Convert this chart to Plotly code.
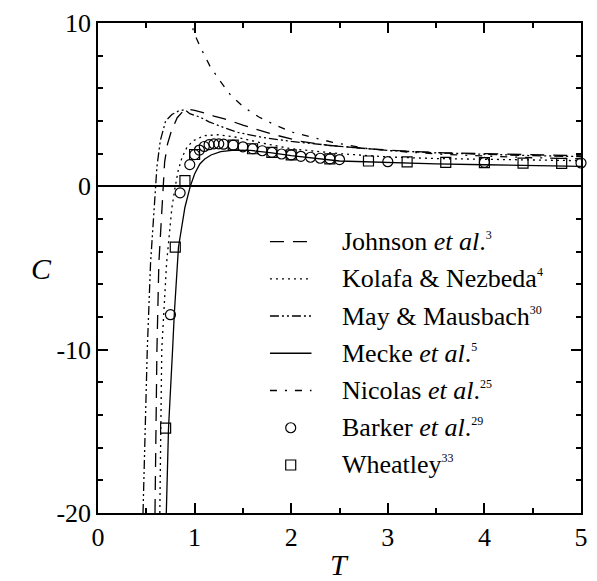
import plotly.graph_objects as go

# Third virial coefficient C(T) of the Lennard-Jones fluid
FONT = "'Liberation Serif', 'Times New Roman', Times, serif"

# --- equations of state (curves) ---
johnson_T = [0.59, 0.61, 0.63, 0.66, 0.675, 0.69, 0.72, 0.76, 0.82, 0.88, 0.93, 1.0, 1.1, 1.2,
             1.3, 1.5, 1.8, 2.1, 2.4, 2.8, 3.2, 3.6, 4.0, 4.5, 5.0]
johnson_C = [-20.0, -10.0, -4.7, -1.3, 0.0, 1.5, 2.6, 3.4, 4.2, 4.6, 4.72, 4.65, 4.5, 4.3,
             4.15, 3.75, 3.2, 2.75, 2.5, 2.3, 2.15, 2.05, 2.0, 1.93, 1.87]

kolafa_T = [0.64, 0.66, 0.71, 0.765, 0.80, 0.83, 0.87, 0.92, 0.985, 1.1, 1.24, 1.44, 1.7, 2.0,
            2.5, 3.0, 3.5, 4.0, 4.5, 5.0]
kolafa_C = [-20.0, -10.0, -4.7, -1.3, 0.0, 0.96, 1.77, 2.38, 2.79, 3.1, 3.16, 3.0, 2.65, 2.3,
            2.0, 1.8, 1.7, 1.65, 1.6, 1.57]

may_T = [0.466, 0.51, 0.544, 0.578, 0.595, 0.61, 0.645, 0.70, 0.765, 0.83, 0.90, 0.95, 1.05,
         1.15, 1.3, 1.45, 1.7, 2.0, 2.5, 3.0, 3.5, 4.0, 4.5, 5.0]
may_C = [-20.0, -10.0, -4.7, -1.3, 0.0, 1.2, 2.8, 4.0, 4.4, 4.6, 4.7, 4.45, 4.25,
         3.95, 3.6, 3.3, 3.0, 2.75, 2.45, 2.2, 2.05, 1.95, 1.88, 1.82]

mecke_T = [0.707, 0.73, 0.772, 0.79, 0.833, 0.90, 0.955, 1.0, 1.054, 1.105, 1.17, 1.27, 1.41,
           1.58, 1.8, 2.0, 2.5, 3.0, 3.5, 4.0, 4.5, 5.0]
mecke_C = [-20.0, -14.8, -10.0, -7.8, -3.73, -1.28, 0.0, 0.76, 1.37, 1.67, 1.92, 2.12, 2.22,
           2.2, 2.05, 1.88, 1.55, 1.45, 1.37, 1.32, 1.27, 1.22]

nicolas_T = [0.975, 0.985, 1.07, 1.156, 1.26, 1.376, 1.51, 1.67, 1.85, 2.02, 2.23, 2.43, 2.8,
             3.2, 3.6, 4.0, 4.5, 5.0]
nicolas_C = [10.6, 9.5, 8.4, 7.39, 6.48, 5.56, 4.84, 4.23, 3.71, 3.3, 2.99, 2.69, 2.3,
             2.1, 1.95, 1.85, 1.75, 1.68]

# --- simulation / exact data (symbols) ---
barker_T = [0.75, 0.85, 0.95, 1.0, 1.05, 1.1, 1.15, 1.2, 1.25, 1.3, 1.4, 1.5, 1.6, 1.7, 1.8,
            1.9, 2.0, 2.1, 2.2, 2.3, 2.4, 2.5, 3.0, 4.0, 5.0]
barker_C = [-7.86, -0.4, 1.33, 1.94, 2.22, 2.44, 2.55, 2.6, 2.6, 2.58, 2.52, 2.42, 2.3, 2.18,
            2.08, 1.98, 1.92, 1.84, 1.78, 1.72, 1.68, 1.64, 1.51, 1.47, 1.43]

wheatley_T = [0.7, 0.8, 0.9, 1.0, 1.4, 1.6, 1.8, 2.0, 2.4, 2.8, 3.2, 3.6, 4.0, 4.4, 4.8]
wheatley_C = [-14.8, -3.72, 0.35, 1.95, 2.52, 2.3, 2.08, 1.92, 1.68, 1.55, 1.5, 1.47, 1.45,
              1.42, 1.4]

x_ticks = [0, 1, 2, 3, 4, 5]
y_ticks = [-20, -10, 0, 10]

legend_labels = [
    "Johnson <i>et al</i>.",
    "Kolafa &amp; Nezbeda",
    "May &amp; Mausbach",
    "Mecke <i>et al</i>.",
    "Nicolas <i>et al</i>.",
    "Barker <i>et al</i>.",
    "Wheatley",
]
legend_refs = ["3", "4", "30", "5", "25", "29", "33"]

# line styles
LW = 1.3
styles = [
    dict(color="black", width=LW, dash="14px,9px"),
    dict(color="black", width=LW, dash="2px,4px"),
    dict(color="black", width=LW, dash="9px,3px,2px,3px,2px,3px"),
    dict(color="black", width=LW, dash="solid"),
    dict(color="black", width=LW, dash="7px,8px,2px,8px"),
]
curves = [(johnson_T, johnson_C), (kolafa_T, kolafa_C), (may_T, may_C),
          (mecke_T, mecke_C), (nicolas_T, nicolas_C)]

fig = go.Figure()
for (tx, cy), st in zip(curves, styles):
    fig.add_trace(go.Scatter(x=tx, y=cy, mode="lines", line=st, showlegend=False))

marker_common = dict(size=10, color="black", line=dict(color="black", width=1.2))
fig.add_trace(go.Scatter(x=barker_T, y=barker_C, mode="markers", showlegend=False,
                         marker=dict(symbol="circle-open", **marker_common), cliponaxis=False))
fig.add_trace(go.Scatter(x=wheatley_T, y=wheatley_C, mode="markers", showlegend=False,
                         marker=dict(symbol="square-open", **marker_common), cliponaxis=False))

# hand-placed key (data coordinates)
key_x0, key_x1, key_text_x = 1.78, 2.21, 2.5
key_y0, key_dy = -3.38, 2.28
for i, (lab, ref) in enumerate(zip(legend_labels, legend_refs)):
    yy = key_y0 - i * key_dy
    if i < 5:
        fig.add_shape(type="line", x0=key_x0, x1=key_x1, y0=yy, y1=yy, xref="x", yref="y",
                      line=styles[i])
    else:
        xc = (key_x0 + key_x1) / 2
        fig.add_trace(go.Scatter(x=[xc], y=[yy], mode="markers", showlegend=False,
                                 marker=dict(symbol="circle-open" if i == 5 else "square-open",
                                             **marker_common)))
    fig.add_annotation(x=key_text_x, y=yy, xref="x", yref="y", xanchor="left", yanchor="middle",
                       showarrow=False,
                       text=lab + "<sup><span style='font-size:12px'>" + ref + "</span></sup>",
                       font=dict(family=FONT, size=26, color="black"))

axis_common = dict(showline=True, linewidth=1.5, linecolor="black", mirror="ticks",
                   ticks="inside", ticklen=10, tickwidth=1.5, tickcolor="black",
                   showgrid=False, tickfont=dict(family=FONT, size=26, color="black"))

fig.update_xaxes(range=[0, 5], tickmode="array", tickvals=x_ticks,
                 ticktext=[str(v) for v in x_ticks], zeroline=False,
                 minor=dict(dtick=0.5, tick0=0, ticks="inside", ticklen=5, tickwidth=1.5,
                            tickcolor="black", showgrid=False),
                 **axis_common)
fig.update_yaxes(range=[-20, 10], tickmode="array", tickvals=y_ticks,
                 ticktext=[str(v) for v in y_ticks], zeroline=True, zerolinewidth=1.5,
                 zerolinecolor="black",
                 minor=dict(dtick=2, tick0=0, ticks="inside", ticklen=5, tickwidth=1.5,
                            tickcolor="black", showgrid=False),
                 **axis_common)

# axis titles
fig.add_annotation(x=-0.118, y=0.5, xref="paper", yref="paper", showarrow=False,
                   xanchor="center", yanchor="middle",
                   text="<i>C</i>", font=dict(family=FONT, size=30, color="black"))
fig.add_annotation(x=0.5, y=-0.106, xref="paper", yref="paper", showarrow=False,
                   xanchor="center", yanchor="middle",
                   text="<i>T</i>", font=dict(family=FONT, size=30, color="black"))

fig.update_layout(width=597, height=581, margin=dict(l=98, r=9, t=22, b=68),
                  paper_bgcolor="white", plot_bgcolor="white",
                  font=dict(family=FONT, color="black"))

fig.write_html("out.html")
